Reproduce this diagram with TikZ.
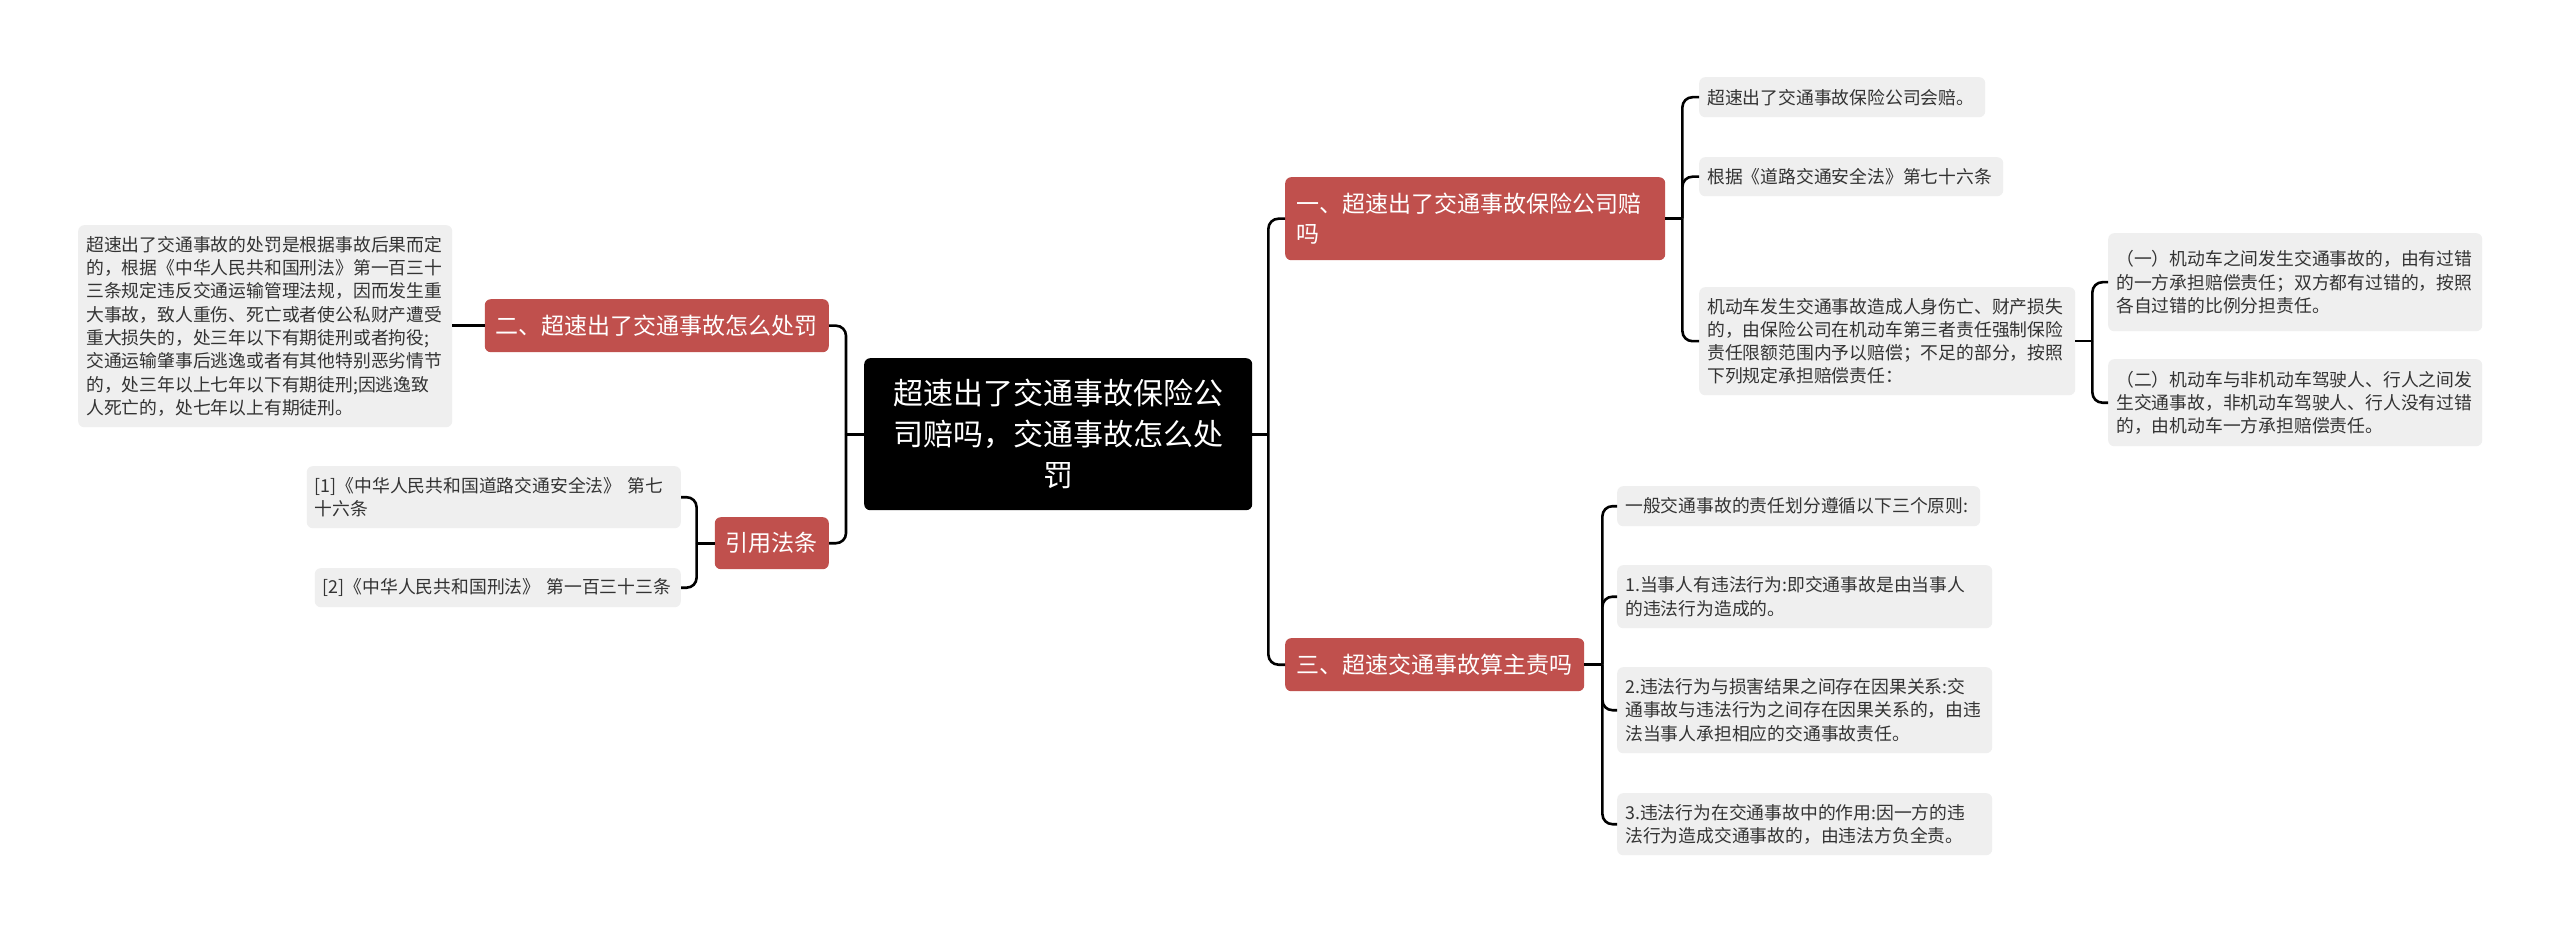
\documentclass[tikz,border=0pt]{standalone}
\usepackage{fontspec}
\usepackage{tikz}
\usepackage{xcolor}
\newfontfamily\cjk{Noto Sans CJK SC}
\usetikzlibrary{positioning,calc}
\definecolor{topicred}{HTML}{C0504D}
\definecolor{leafgray}{HTML}{EFEFEF}
\definecolor{leaftext}{HTML}{333333}

\begin{document}
\begin{tikzpicture}[x=1pt,y=-1pt,
  hub/.style={fill=black,text=white,rounded corners=6pt,inner xsep=10pt,inner ysep=4pt,align=center,font=\cjk\fontsize{30}{41}\selectfont},
  topic/.style={fill=topicred,text=white,rounded corners=6pt,inner xsep=11pt,inner ysep=4pt,align=left,font=\cjk\fontsize{23}{30}\selectfont},
  leaf/.style={fill=leafgray,text=leaftext,rounded corners=6pt,inner xsep=8pt,inner ysep=4pt,align=left,font=\cjk\fontsize{17.8}{23.3}\selectfont},
  link/.style={draw=black,line width=2.6pt,rounded corners=10pt}]
  \useasboundingbox (0,0) rectangle (2560,933);
  \fill[white] (0,0) rectangle (2560,933);
  % central topic
  \node[hub,anchor=north west,text width=368pt,minimum height=152pt] (root) at (864,358)
    {超速出了交通事故保险公\\司赔吗，交通事故怎么处\\罚};
  % main topics
  \node[topic,anchor=north west,text width=358pt,minimum height=83pt] (q1) at (1285,177)
    {一、超速出了交通事故保险公司赔\\吗};
  \node[topic,anchor=north west,text width=277pt,minimum height=53pt] (q3) at (1285,638)
    {三、超速交通事故算主责吗};
  \node[topic,anchor=north east,text width=322pt,minimum height=53pt] (q2) at (829,299)
    {二、超速出了交通事故怎么处罚};
  \node[topic,anchor=north east,text width=92pt,minimum height=52pt] (cite) at (829,517)
    {引用法条};
  % left leaves
  \node[leaf,anchor=north west,text width=358pt,minimum height=202pt] (pen) at (78,225)
    {超速出了交通事故的处罚是根据事故后果而定\\的，根据《中华人民共和国刑法》第一百三十\\三条规定违反交通运输管理法规，因而发生重\\大事故，致人重伤、死亡或者使公私财产遭受\\重大损失的，处三年以下有期徒刑或者拘役;\\交通运输肇事后逃逸或者有其他特别恶劣情节\\的，处三年以上七年以下有期徒刑;因逃逸致\\人死亡的，处七年以上有期徒刑。};
  \node[leaf,anchor=north east,text width=358pt,minimum height=62pt] (law1) at (681,466)
    {[1]《中华人民共和国道路交通安全法》 第七\\十六条};
  \node[leaf,anchor=north east,text width=350pt,minimum height=39pt] (law2) at (681,568)
    {[2]《中华人民共和国刑法》 第一百三十三条};
  % right leaves, topic one
  \node[leaf,anchor=north west,text width=270pt,minimum height=40pt] (pay) at (1699,77)
    {超速出了交通事故保险公司会赔。};
  \node[leaf,anchor=north west,text width=288pt,minimum height=39pt] (basis) at (1699,157)
    {根据《道路交通安全法》第七十六条};
  \node[leaf,anchor=north west,text width=360pt,minimum height=108pt] (rule) at (1699,287)
    {机动车发生交通事故造成人身伤亡、财产损失\\的，由保险公司在机动车第三者责任强制保险\\责任限额范围内予以赔偿；不足的部分，按照\\下列规定承担赔偿责任：};
  \node[leaf,anchor=north west,text width=358pt,minimum height=98pt] (car1) at (2108,233)
    {（一）机动车之间发生交通事故的，由有过错\\的一方承担赔偿责任；双方都有过错的，按照\\各自过错的比例分担责任。};
  \node[leaf,anchor=north west,text width=358pt,minimum height=87pt] (car2) at (2108,359)
    {（二）机动车与非机动车驾驶人、行人之间发\\生交通事故，非机动车驾驶人、行人没有过错\\的，由机动车一方承担赔偿责任。};
  % right leaves, topic three
  \node[leaf,anchor=north west,text width=347pt,minimum height=40pt] (gen) at (1617,486)
    {一般交通事故的责任划分遵循以下三个原则:};
  \node[leaf,anchor=north west,text width=359pt,minimum height=63pt] (p1) at (1617,565)
    {1.当事人有违法行为:即交通事故是由当事人\\的违法行为造成的。};
  \node[leaf,anchor=north west,text width=359pt,minimum height=86pt] (p2) at (1617,667)
    {2.违法行为与损害结果之间存在因果关系:交\\通事故与违法行为之间存在因果关系的，由违\\法当事人承担相应的交通事故责任。};
  \node[leaf,anchor=north west,text width=359pt,minimum height=62pt] (p3) at (1617,793)
    {3.违法行为在交通事故中的作用:因一方的违\\法行为造成交通事故的，由违法方负全责。};
  % connectors
  \draw[link] (root.east) -- ++(16,0) coordinate (rj);
  \draw[link] (rj) |- (q1.west);
  \draw[link] (rj) |- (q3.west);
  \draw[link] (root.west) -- ++(-18,0) coordinate (lj);
  \draw[link] (lj) |- (q2.east);
  \draw[link] (lj) |- (cite.east);
  \draw[link] (q2.west) -- (q2.west -| pen.east);
  \draw[link] (cite.west) -- ++(-18,0) coordinate (cj);
  \draw[link] (cj) |- (law1.east);
  \draw[link] (cj) |- (law2.east);
  \draw[link] (q1.east) -- ++(17,0) coordinate (j1);
  \draw[link] (j1) |- (pay.west);
  \draw[link] (j1) |- (basis.west);
  \draw[link] (j1) |- (rule.west);
  \draw[link] (rule.east) -- ++(17,0) coordinate (j2);
  \draw[link] (j2) |- (car1.west);
  \draw[link] (j2) |- (car2.west);
  \draw[link] (q3.east) -- ++(18,0) coordinate (j3);
  \draw[link] (j3) |- (gen.west);
  \draw[link] (j3) |- (p1.west);
  \draw[link] (j3) |- (p2.west);
  \draw[link] (j3) |- (p3.west);
\end{tikzpicture}
\end{document}
